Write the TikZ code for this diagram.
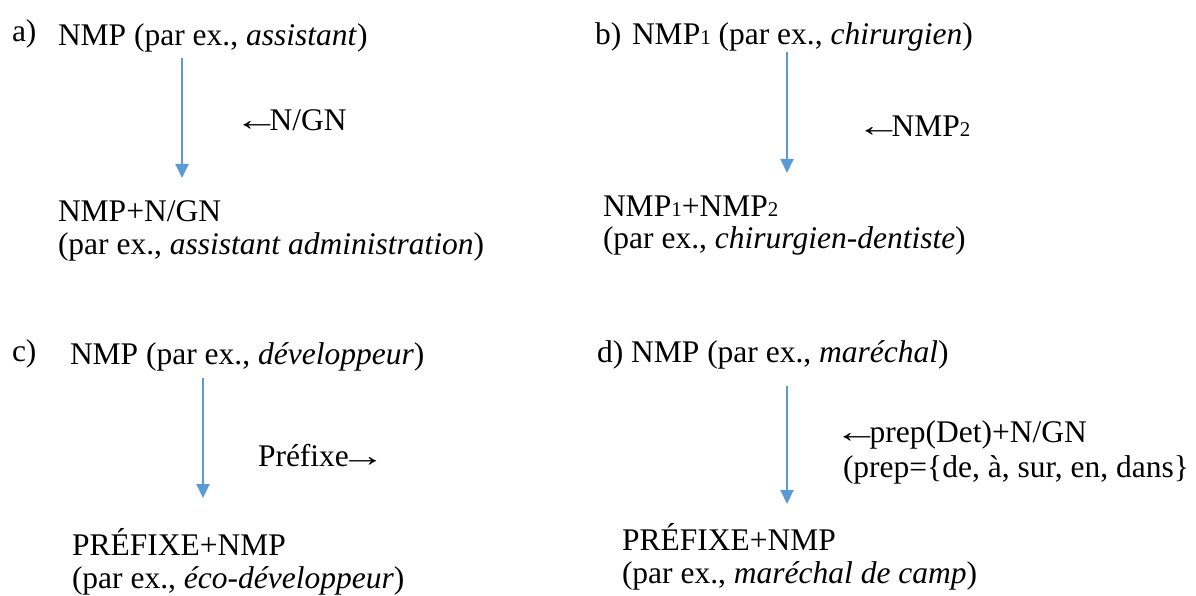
\documentclass[tikz,border=0pt]{standalone}
\usepackage{graphicx}
\usepackage{fontspec}
\setmainfont{Liberation Serif}
\newfontfamily\serifrm{Liberation Serif}
\usetikzlibrary{arrows.meta}
\definecolor{arrowblue}{HTML}{5B9BD5}
\newcommand{\sbs}[1]{{\fontsize{21bp}{21bp}\selectfont #1}}
\newcommand{\larr}{\hspace*{-9bp}\scalebox{1.45}[1]{←}\hspace*{-10bp}}
\newcommand{\rarr}{\hspace*{-9bp}\scalebox{1.45}[1]{→}}
\tikzset{
  txt/.style={anchor=base west, inner sep=0pt, outer sep=0pt, font=\serifrm\fontsize{31.5bp}{38bp}\selectfont},
  flow/.style={draw=arrowblue, line width=2bp, -{Triangle[width=13bp,length=14bp]}}
}
\begin{document}
\begin{tikzpicture}[x=1bp,y=-1bp]
\useasboundingbox (0,0) rectangle (1196,596);
% panel a
\node[txt] (la) at (12,42) {a)};
\node[txt] (ta) at (58,46) {NMP (par ex., \textit{assistant})};
\node[txt] (ra) at (243,131) {\larr N/GN};
\node[txt] (ba) at (58,222) {NMP+N/GN};
\node[txt] (ea) at (58,255) {(par ex., \textit{assistant administration})};
\coordinate (a1) at (182,58);
\coordinate (a2) at (182,178);
\draw[flow] (a1) -- (a2);
% panel b
\node[txt] (lb) at (595,45) {b)};
\node[txt] (tb) at (632,45) {NMP\sbs{1} (par ex., \textit{chirurgien})};
\node[txt] (rb) at (865,137) {\larr NMP\sbs{2}};
\node[txt] (bb) at (603,217) {NMP\sbs{1}+NMP\sbs{2}};
\node[txt] (eb) at (603,249) {(par ex., \textit{chirurgien-dentiste})};
\coordinate (b1) at (787,52);
\coordinate (b2) at (787,173);
\draw[flow] (b1) -- (b2);
% panel c
\node[txt] (lc) at (12,361) {c)};
\node[txt] (tc) at (70,364) {NMP (par ex., \textit{développeur})};
\node[txt] (rc) at (258,466) {Préfixe\rarr};
\node[txt] (bc) at (72,555) {PRÉFIXE+NMP};
\node[txt] (ec) at (72,588) {(par ex., \textit{éco-développeur})};
\coordinate (c1) at (203,378);
\coordinate (c2) at (203,498);
\draw[flow] (c1) -- (c2);
% panel d
\node[txt] (td) at (597,362) {d) NMP (par ex., \textit{maréchal})};
\node[txt] (rd) at (843,442) {\larr prep(Det)+N/GN};
\node[txt] (rd2) at (843,477) {(prep=\{de, à, sur, en, dans\}};
\node[txt] (bd) at (622,550) {PRÉFIXE+NMP};
\node[txt] (ed) at (622,583) {(par ex., \textit{maréchal de camp})};
\coordinate (d1) at (787,386);
\coordinate (d2) at (787,504);
\draw[flow] (d1) -- (d2);
\end{tikzpicture}
\end{document}
